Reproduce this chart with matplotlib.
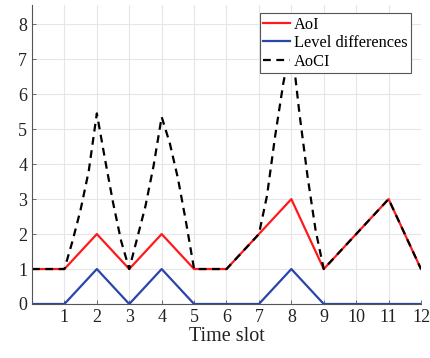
import matplotlib
matplotlib.use('Agg')
import matplotlib.pyplot as plt

# Time slots
slots = [0, 1, 2, 3, 4, 5, 6, 7, 8, 9, 10, 11, 12]
aoi = [1, 1, 2, 1, 2, 1, 1, 2, 3, 1, 2, 3, 1]
level_diff = [0, 0, 1, 0, 1, 0, 0, 0, 1, 0, 0, 0, 0]

# AoCI (finer where it bends)
aoci_x = [0, 1, 1.25, 1.5, 1.75, 2, 2.25, 2.5, 2.75, 3,
          3.25, 3.5, 3.75, 4, 4.25, 4.5, 4.75, 5, 6, 7,
          7.25, 7.5, 7.75, 8, 8.25, 8.5, 8.75, 9, 10, 11, 12]
aoci_y = [1, 1, 1.8, 2.7, 3.8, 5.45, 4.15, 2.9, 1.8, 1,
          1.9, 2.8, 3.95, 5.35, 4.6, 3.6, 2.35, 1, 1, 2,
          3.1, 4.8, 6.3, 7.5, 5.45, 3.65, 2.1, 1, 2, 3, 1]

plt.rcParams['font.family'] = ['Liberation Serif', 'DejaVu Serif']

fig = plt.figure(figsize=(4.31, 3.58), dpi=100)
ax = fig.add_axes([32 / 431, 1 - 304 / 358, 389 / 431, 299 / 358])

ax.plot(slots, aoi, color='#ff1a1a', linewidth=1.6, label='AoI')
ax.plot(slots, level_diff, color='#2b45a8', linewidth=1.6, label='Level differences')
ax.plot(aoci_x, aoci_y, color='black', linewidth=1.6, linestyle=(0, (3.5, 2.5)), label='AoCI')

ax.set_xlim(0, 12)
ax.set_ylim(0, 8.55)
ax.set_xticks(range(1, 13))
ax.set_yticks(range(0, 9))
ax.grid(True, color='#e6e6e6', linewidth=0.8)
ax.set_axisbelow(True)

for side in ['top', 'right']:
    ax.spines[side].set_visible(False)
for side in ['left', 'bottom']:
    ax.spines[side].set_color('#555555')
    ax.spines[side].set_linewidth(0.8)

ax.tick_params(direction='in', length=3, width=0.6, colors='#555555',
               labelcolor='#222222', labelsize=13)
ax.set_xlabel('Time slot', fontsize=14.5, color='#222222', labelpad=1)

leg = ax.legend(loc='upper right', bbox_to_anchor=(0.974, 0.973), fontsize=11.8,
                frameon=True, fancybox=False, framealpha=1, edgecolor='#555555',
                borderpad=0.22, labelspacing=0.15, handlelength=1.6,
                handletextpad=0.25, borderaxespad=0)
leg.get_frame().set_linewidth(0.8)

fig.savefig('out.png', dpi=100)
